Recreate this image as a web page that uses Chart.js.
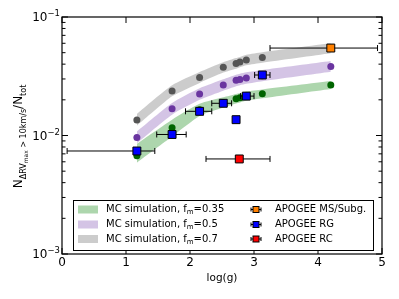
<!DOCTYPE html>
<html>
<head>
<meta charset="utf-8">
<script src="https://cdn.jsdelivr.net/npm/chart.js@4.4.0/dist/chart.umd.min.js"></script>
<style>
body { margin: 0; background: #fff; }
#wrap { width: 399px; height: 299px; }
</style>
</head>
<body>
<div id="wrap"><canvas id="myChart" width="399" height="299"></canvas></div>
<script>
// MC simulation points (log g positions shared by all three fm values)
const logg = [1.17, 1.72, 2.15, 2.52, 2.72, 2.78, 2.88, 3.13, 4.2];
const fm035 = [0.00676, 0.0116, 0.0165, 0.019, 0.0204, 0.0208, 0.0215, 0.0225, 0.0267];
const fm035Lo = [0.0059, 0.0098, 0.0146, 0.0172, 0.0186, 0.019, 0.0196, 0.0206, 0.0247];
const fm035Hi = [0.0085, 0.0136, 0.0185, 0.021, 0.0224, 0.0228, 0.0235, 0.0245, 0.0288];
const fm05 = [0.00964, 0.0168, 0.0224, 0.0267, 0.0292, 0.0297, 0.0305, 0.032, 0.0383];
const fm05Lo = [0.0086, 0.015, 0.02, 0.0239, 0.0261, 0.0266, 0.0273, 0.0287, 0.0345];
const fm05Hi = [0.0108, 0.0188, 0.025, 0.0298, 0.0326, 0.0332, 0.0341, 0.0357, 0.0425];
const fm07 = [0.0135, 0.0238, 0.0309, 0.0376, 0.0406, 0.0417, 0.0434, 0.0456, 0.0547];
const fm07Lo = [0.0121, 0.0214, 0.0278, 0.034, 0.0366, 0.0377, 0.0392, 0.0412, 0.0495];
const fm07Hi = [0.0152, 0.0265, 0.0343, 0.0415, 0.045, 0.046, 0.048, 0.0505, 0.06];

// APOGEE measurements
const rgX = [1.17, 1.72, 2.15, 2.52, 2.72, 2.88, 3.13];
const rgY = [0.0074, 0.0102, 0.016, 0.0187, 0.0136, 0.0215, 0.0324];
const rgErrLo = [1.09, 0.24, 0.22, 0.18, 0.04, 0.09, 0.12];
const rgErrHi = [0.28, 0.22, 0.19, 0.13, 0.04, 0.12, 0.12];
const msX = [4.2], msY = [0.0547], msErrLo = [0.95], msErrHi = [0.73];
const rcX = [2.77], rcY = [0.00634], rcErrLo = [0.52], rcErrHi = [0.48];

const yTicks = [0.001, 0.01, 0.1];
const yTickExp = ['\u22123', '\u22122', '\u22121'];
const xTicks = [0, 1, 2, 3, 4, 5];

const FONT = "'DejaVu Sans', sans-serif";
const pts = (xs, ys) => xs.map((x, i) => ({ x: x, y: ys[i] }));

function band(lo, hi, color) {
	return [
		{ type: 'line', data: pts(logg, lo), borderWidth: 0, pointRadius: 0, fill: false, tension: 0.2, order: 20 },
		{ type: 'line', data: pts(logg, hi), borderWidth: 0, pointRadius: 0, fill: '-1', backgroundColor: color, tension: 0.2, order: 20 }
	];
}
function mcPoints(ys, color) {
	return { type: 'scatter', data: pts(logg, ys), pointRadius: 3.5, pointBackgroundColor: color, pointBorderWidth: 0, order: 10 };
}
function apogee(xs, ys, lo, hi, color) {
	return { type: 'scatter', data: pts(xs, ys), errLo: lo, errHi: hi, pointStyle: 'rect', pointRadius: 5.6,
		pointBackgroundColor: color, pointBorderColor: '#000', pointBorderWidth: 1, order: 1 };
}

const bandGreen = 'rgba(0,128,0,0.32)';
const bandPurple = 'rgba(120,70,175,0.32)';
const bandGray = 'rgba(120,120,120,0.38)';

const datasets = [
	...band(fm035Lo, fm035Hi, bandGreen),
	...band(fm05Lo, fm05Hi, bandPurple),
	...band(fm07Lo, fm07Hi, bandGray),
	mcPoints(fm035, '#006400'),
	mcPoints(fm05, '#6a35a0'),
	mcPoints(fm07, '#555555'),
	apogee(rgX, rgY, rgErrLo, rgErrHi, '#0000ff'),
	apogee(msX, msY, msErrLo, msErrHi, '#ff8000'),
	apogee(rcX, rcY, rcErrLo, rcErrHi, '#ff0000')
];

// error bars, drawn just before their square markers
const errorBars = {
	id: 'errorBars',
	beforeDatasetDraw(chart, args) {
		const ds = chart.data.datasets[args.index];
		if (!ds.errLo) return;
		const ctx = chart.ctx, xs = chart.scales.x, ys = chart.scales.y;
		ctx.save();
		ctx.strokeStyle = '#000';
		ctx.lineWidth = 1;
		ds.data.forEach((p, i) => {
			const py = ys.getPixelForValue(p.y);
			const x0 = xs.getPixelForValue(p.x - ds.errLo[i]);
			const x1 = xs.getPixelForValue(p.x + ds.errHi[i]);
			ctx.beginPath();
			ctx.moveTo(x0, py); ctx.lineTo(x1, py);
			ctx.moveTo(x0, py - 3); ctx.lineTo(x0, py + 3);
			ctx.moveTo(x1, py - 3); ctx.lineTo(x1, py + 3);
			ctx.stroke();
		});
		ctx.restore();
	}
};

// frame, inward ticks, y tick labels, y title and legend
const decor = {
	id: 'decor',
	afterDraw(chart) {
		const ctx = chart.ctx, a = chart.chartArea, xs = chart.scales.x, ys = chart.scales.y;
		ctx.save();
		ctx.strokeStyle = '#000';
		ctx.lineWidth = 1.2;
		ctx.strokeRect(a.left, a.top, a.right - a.left, a.bottom - a.top);
		ctx.lineWidth = 1;
		ctx.beginPath();
		xTicks.forEach(v => {
			const px = xs.getPixelForValue(v);
			ctx.moveTo(px, a.bottom); ctx.lineTo(px, a.bottom - 6);
			ctx.moveTo(px, a.top); ctx.lineTo(px, a.top + 6);
		});
		yTicks.forEach(d => {
			const py = ys.getPixelForValue(d);
			ctx.moveTo(a.left, py); ctx.lineTo(a.left + 6, py);
			ctx.moveTo(a.right, py); ctx.lineTo(a.right - 6, py);
			if (d < 0.1) {
				for (let k = 2; k <= 9; k++) {
					const pm = ys.getPixelForValue(k * d);
					ctx.moveTo(a.left, pm); ctx.lineTo(a.left + 3.5, pm);
					ctx.moveTo(a.right, pm); ctx.lineTo(a.right - 3.5, pm);
				}
			}
		});
		ctx.stroke();

		// y tick labels 10^n
		ctx.fillStyle = '#000';
		ctx.textBaseline = 'middle';
		ctx.textAlign = 'left';
		yTicks.forEach((d, i) => {
			const py = ys.getPixelForValue(d);
			ctx.font = '8.5px ' + FONT;
			const ew = ctx.measureText(yTickExp[i]).width;
			ctx.font = '12px ' + FONT;
			const bw = ctx.measureText('10').width;
			const x0 = a.left - 2 - ew - bw;
			ctx.fillText('10', x0, py + 1);
			ctx.font = '8.5px ' + FONT;
			ctx.fillText(yTickExp[i], x0 + bw, py - 3);
		});

		// y title with subscripts
		const segs = [
			['N', 12, 0], ['\u0394RV', 8, 3.5], ['max', 6, 5.5], [' > 10km/s', 8, 3.5], ['/N', 12, 0], ['tot', 8, 3.5]
		];
		let total = 0;
		segs.forEach(s => { ctx.font = s[1] + 'px ' + FONT; total += ctx.measureText(s[0]).width; });
		ctx.translate(22, (a.top + a.bottom) / 2 + 1);
		ctx.rotate(-Math.PI / 2);
		ctx.textBaseline = 'alphabetic';
		let cx = -total / 2;
		segs.forEach(s => {
			ctx.font = s[1] + 'px ' + FONT;
			ctx.fillText(s[0], cx, s[2]);
			cx += ctx.measureText(s[0]).width;
		});
		ctx.setTransform(1, 0, 0, 1, 0, 0);

		// legend
		const lx = 73.5, ly = 200.5, lw = 300, lh = 50;
		ctx.fillStyle = '#fff';
		ctx.fillRect(lx, ly, lw, lh);
		ctx.strokeStyle = '#000';
		ctx.lineWidth = 1;
		ctx.strokeRect(lx, ly, lw, lh);
		const rows = [209.5, 224.5, 239];
		const mc = [['0.35', bandGreen], ['0.5', bandPurple], ['0.7', bandGray]];
		ctx.textBaseline = 'middle';
		mc.forEach((m, i) => {
			ctx.fillStyle = m[1];
			ctx.fillRect(78, rows[i] - 4, 20, 8);
			ctx.fillStyle = '#000';
			let tx = 106;
			ctx.font = '10px ' + FONT;
			ctx.fillText('MC simulation, f', tx, rows[i]);
			tx += ctx.measureText('MC simulation, f').width;
			ctx.font = '7px ' + FONT;
			ctx.fillText('m', tx, rows[i] + 3);
			tx += ctx.measureText('m').width;
			ctx.font = '10px ' + FONT;
			ctx.fillText('=' + m[0], tx, rows[i]);
		});
		const ap = [['APOGEE MS/Subg.', '#ff8000'], ['APOGEE RG', '#0000ff'], ['APOGEE RC', '#ff0000']];
		ap.forEach((m, i) => {
			const mx = 256, my = rows[i];
			ctx.beginPath();
			ctx.moveTo(mx - 5, my); ctx.lineTo(mx + 5, my);
			ctx.moveTo(mx - 5, my - 2); ctx.lineTo(mx - 5, my + 2);
			ctx.moveTo(mx + 5, my - 2); ctx.lineTo(mx + 5, my + 2);
			ctx.stroke();
			ctx.fillStyle = m[1];
			ctx.fillRect(mx - 3, my - 3, 6, 6);
			ctx.strokeRect(mx - 3, my - 3, 6, 6);
			ctx.fillStyle = '#000';
			ctx.font = '10px ' + FONT;
			ctx.fillText(m[0], 275, my);
		});
		ctx.restore();
	}
};

const ctx = document.getElementById('myChart').getContext('2d');
const myChart = new Chart(ctx, {
	type: 'scatter',
	data: { datasets: datasets },
	plugins: [errorBars, decor],
	options: {
		responsive: false,
		animation: false,
		layout: { padding: { top: 17, right: 17, left: 0, bottom: 0 } },
		plugins: { legend: { display: false }, tooltip: { enabled: false } },
		scales: {
			x: {
				type: 'linear', min: 0, max: 5,
				afterBuildTicks: s => { s.ticks = xTicks.map(v => ({ value: v })); },
				afterFit: s => { s.height = 45; },
				grid: { display: false, drawTicks: false }, border: { display: false },
				ticks: { color: '#000', font: { family: FONT, size: 12 }, padding: 2, maxRotation: 0 },
				title: { display: true, text: 'log(g)', color: '#000', font: { family: FONT, size: 10.5 }, padding: { top: 2, bottom: 14 } }
			},
			y: {
				type: 'logarithmic', min: 0.001, max: 0.1,
				afterBuildTicks: s => { s.ticks = yTicks.map(v => ({ value: v })); },
				afterFit: s => { s.width = 62; },
				grid: { display: false, drawTicks: false }, border: { display: false },
				ticks: { display: false }
			}
		}
	}
});
</script>
</body>
</html>
